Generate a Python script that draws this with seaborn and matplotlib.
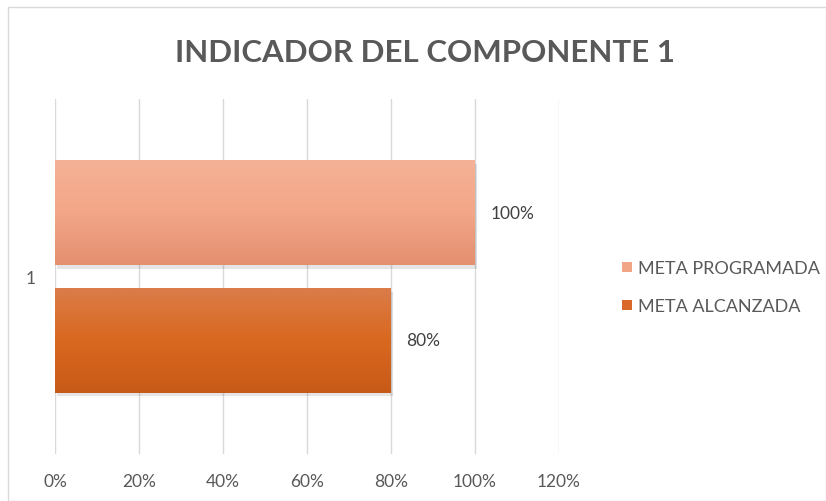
import matplotlib
matplotlib.use("Agg")
import matplotlib.pyplot as plt
import seaborn as sns
import pandas as pd
import numpy as np
from matplotlib.patches import Rectangle
from matplotlib.lines import Line2D
from matplotlib.colors import LinearSegmentedColormap

categories = ["1"]
series = ["META PROGRAMADA", "META ALCANZADA"]
values_programada = [1.00]
values_alcanzada = [0.80]
tick_values = [0, 0.2, 0.4, 0.6, 0.8, 1.0, 1.2]
tick_labels = ["0%", "20%", "40%", "60%", "80%", "100%", "120%"]
colors = ["#F2A585", "#D8692A"]
gradients = [["#F5B196", "#F3A688", "#E48F70"], ["#DB7C49", "#D9681F", "#C85A18"]]

df = pd.DataFrame({
    "cat": categories * 2,
    "serie": [series[0]] * len(categories) + [series[1]] * len(categories),
    "valor": values_programada + values_alcanzada,
})

sns.set_theme(style="white")
plt.rcParams["font.family"] = ["Lato", "DejaVu Sans"]

fig = plt.figure(figsize=(8.26, 5.02), dpi=100)
ax = fig.add_axes([0.0666, 0.0936, 0.610, 0.707])

sns.barplot(data=df, y="cat", x="valor", hue="serie", orient="h",
            palette=colors, width=0.72, gap=0.18, ax=ax, legend=False,
            saturation=1, linewidth=0)

# gradient fill clipped to each bar
for cont, grad in zip(ax.containers, gradients):
    cmap = LinearSegmentedColormap.from_list("g", grad)
    for p in cont.patches:
        x0, y0 = p.get_x(), p.get_y()
        w, h = p.get_width(), p.get_height()
        img = np.linspace(0, 1, 100).reshape(-1, 1)
        ax.add_patch(Rectangle((x0 + 0.004, y0 + 0.010), w, h, facecolor="#000000",
                               alpha=0.10, linewidth=0, zorder=p.get_zorder() - 0.1))
        im = ax.imshow(img, cmap=cmap, aspect="auto",
                       extent=(x0, x0 + w, y0 + h, y0), origin="upper",
                       zorder=p.get_zorder() + 0.1, interpolation="bilinear")
        im.set_clip_path(p)

ax.set_xlim(0, 1.2)
ax.set_ylim(0.5, -0.5)
ax.set_xticks(tick_values)
ax.set_xticklabels(tick_labels)
ax.grid(axis="x", color="#d9d9d9", linewidth=1)
ax.set_axisbelow(True)
for s in ax.spines.values():
    s.set_visible(False)
ax.set_xlabel("")
ax.set_ylabel("")
ax.tick_params(axis="x", colors="#595959", labelsize=12.5, length=0, pad=14)
ax.tick_params(axis="y", colors="#595959", labelsize=12.5, length=0, pad=14)

for cont in ax.containers:
    ax.bar_label(cont, labels=[f"{v*100:.0f}%" for v in cont.datavalues],
                 padding=11, color="#404040", fontsize=12.5)

handles = [Line2D([], [], marker="s", linestyle="", markersize=7,
                  markerfacecolor=c, markeredgewidth=0) for c in colors]
fig.legend(handles, series, loc="center left", bbox_to_anchor=(0.729, 0.426),
           frameon=False, fontsize=13, labelcolor="#595959",
           handletextpad=0.1, labelspacing=1.25, handlelength=1.0)

fig.text(0.515, 0.895, "INDICADOR DEL COMPONENTE 1", ha="center", va="center",
         fontsize=22.5, fontweight="bold", color="#595959")

fig.patches.append(Rectangle((0.01, 0.0), 0.99, 0.985, transform=fig.transFigure,
                             fill=False, edgecolor="#d9d9d9", linewidth=1))

fig.savefig("out.png", dpi=100, facecolor="white")
